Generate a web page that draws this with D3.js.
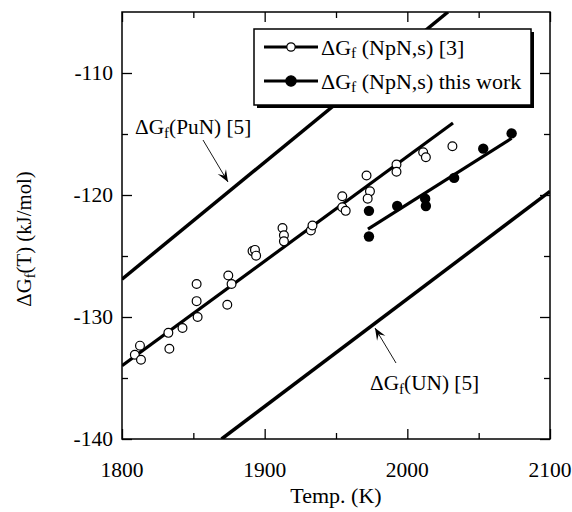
<!DOCTYPE html>
<html><head><meta charset="utf-8">
<script src="https://cdn.jsdelivr.net/npm/d3@7"></script>
<style>body{margin:0;background:#fff;} svg text{font-family:'Liberation Serif','DejaVu Serif',serif;}</style>
</head><body>
<svg id="c" width="572" height="512" font-family="Liberation Serif, DejaVu Serif, serif"></svg>
<script>
// ---- data ----
const xTicks = [1800, 1900, 2000, 2100];
const xMinorTicks = [1850, 1950, 2050];
const yTicks = [-140, -130, -120, -110];
const yMinorTicks = [-135, -125, -115];
const xDomain = [1800, 2100];
const yDomain = [-140, -105];

// open circles: ΔGf (NpN,s) [3]
const refT = [1809, 1812.6, 1813.3, 1832.5, 1833.2, 1842.4, 1852.3, 1852.3, 1853, 1873.8, 1874.5, 1876.8,
  1891.5, 1893.2, 1894, 1912.5, 1913.5, 1913.5, 1932.4, 1933.5, 1954.4, 1954.4, 1956.8,
  1971.4, 1973.8, 1972.2, 1992.4, 1992.4, 2011.1, 2013, 2031.6];
const refG = [-133.1, -132.35, -133.5, -131.3, -132.6, -130.9, -127.3, -128.7, -130.0, -129.0, -126.6, -127.3,
  -124.6, -124.5, -124.97, -122.7, -123.3, -123.8, -122.9, -122.5, -120.1, -121.0, -121.3,
  -118.4, -119.7, -120.3, -117.5, -118.1, -116.5, -116.9, -116.0];
// filled circles: ΔGf (NpN,s) this work
const workT = [1973.1, 1973.1, 1992.9, 2012.5, 2013, 2032.8, 2053.2, 2073.1];
const workG = [-121.3, -123.4, -120.9, -120.3, -120.9, -118.6, -116.2, -114.95];

// straight lines (endpoints)
const refLineT = [1800, 2032];     const refLineG = [-134.0, -114.1];
const workLineT = [1972.4, 2073.1]; const workLineG = [-122.8, -115.35];
const punLineT = [1800, 2028.5];   const punLineG = [-126.9, -105];
const unLineT = [1869.8, 2100];    const unLineG = [-140, -119.7];

const legendLabels = ["(NpN,s) [3]", "(NpN,s) this work"];
const xTitle = "Temp. (K)";

// ---- layout ----
const L = 122, R = 550, T = 12, B = 439;
const x = d3.scaleLinear().domain(xDomain).range([L, R]);
const y = d3.scaleLinear().domain(yDomain).range([B, T]);
const svg = d3.select("#c");

svg.append("defs").append("clipPath").attr("id", "clip")
  .append("rect").attr("x", L).attr("y", T).attr("width", R - L).attr("height", B - T);

function tickAxis(axisGen, tr, vals, len) {
  const g = svg.append("g").attr("transform", tr)
    .call(axisGen.tickValues(vals).tickSize(len).tickFormat(""));
  g.select(".domain").remove();
  g.selectAll("line").attr("stroke", "#000").attr("stroke-width", 1.3);
  return g;
}
tickAxis(d3.axisTop(x), `translate(0,${B})`, xTicks, 10);
tickAxis(d3.axisTop(x), `translate(0,${B})`, xMinorTicks, 6);
tickAxis(d3.axisBottom(x), `translate(0,${T})`, xTicks, 10);
tickAxis(d3.axisBottom(x), `translate(0,${T})`, xMinorTicks, 6);
tickAxis(d3.axisRight(y), `translate(${L},0)`, yTicks, 10);
tickAxis(d3.axisRight(y), `translate(${L},0)`, yMinorTicks, 6);
tickAxis(d3.axisLeft(y), `translate(${R},0)`, yTicks, 10);
tickAxis(d3.axisLeft(y), `translate(${R},0)`, yMinorTicks, 6);

svg.append("rect").attr("x", L).attr("y", T).attr("width", R - L).attr("height", B - T)
  .attr("fill", "none").attr("stroke", "#000").attr("stroke-width", 1.5);

const FF = "Liberation Serif, DejaVu Serif, serif";
svg.append("g").selectAll("text").data(xTicks).join("text")
  .attr("x", d => x(d)).attr("y", B + 38).attr("text-anchor", "middle")
  .attr("font-family", FF).attr("font-size", 21.5).text(d => d);
svg.append("g").selectAll("text").data(yTicks).join("text")
  .attr("x", L - 9).attr("y", d => y(d) + 7).attr("text-anchor", "end")
  .attr("font-family", FF).attr("font-size", 21.5).text(d => d);

svg.append("text").attr("x", (L + R) / 2).attr("y", 503).attr("text-anchor", "middle")
  .attr("font-family", FF).attr("font-size", 22).text(xTitle);
const yt = svg.append("text").attr("transform", "translate(31,239) rotate(-90)")
  .attr("text-anchor", "middle").attr("font-family", FF).attr("font-size", 20.8);
yt.append("tspan").text("ΔG");
yt.append("tspan").attr("font-size", 14.5).attr("dy", 4).text("f");
yt.append("tspan").attr("dy", -4).text("(T) (kJ/mol)");

const lineGen = d3.line().x(d => x(d[0])).y(d => y(d[1]));
const plot = svg.append("g").attr("clip-path", "url(#clip)");
function drawLine(ts, gs, w) {
  plot.append("path").datum(ts.map((t, i) => [t, gs[i]])).attr("d", lineGen)
    .attr("fill", "none").attr("stroke", "#000").attr("stroke-width", w);
}
drawLine(punLineT, punLineG, 3.5);
drawLine(unLineT, unLineG, 3.5);
drawLine(refLineT, refLineG, 3.2);
drawLine(workLineT, workLineG, 3.2);

plot.append("g").selectAll("circle").data(refT.map((t, i) => [t, refG[i]])).join("circle")
  .attr("cx", d => x(d[0])).attr("cy", d => y(d[1])).attr("r", 4.4)
  .attr("fill", "#fff").attr("stroke", "#000").attr("stroke-width", 1.2);
plot.append("g").selectAll("circle").data(workT.map((t, i) => [t, workG[i]])).join("circle")
  .attr("cx", d => x(d[0])).attr("cy", d => y(d[1])).attr("r", 5.2)
  .attr("fill", "#000");

function subLabel(xp, yp, parts) {
  const t = svg.append("text").attr("x", xp).attr("y", yp).attr("font-family", FF).attr("font-size", 21.3);
  t.append("tspan").text("ΔG");
  t.append("tspan").attr("font-size", 15).attr("dy", 4).text("f");
  t.append("tspan").attr("dy", -4).text(parts);
  return t;
}
function arrow(x1, y1, x2, y2) {
  svg.append("line").attr("x1", x1).attr("y1", y1).attr("x2", x2).attr("y2", y2)
    .attr("stroke", "#000").attr("stroke-width", 0.9);
  const a = Math.atan2(y2 - y1, x2 - x1), len = 13, sp = 0.38;
  const p1 = [x2 - len * Math.cos(a - sp), y2 - len * Math.sin(a - sp)];
  const p2 = [x2 - len * Math.cos(a + sp), y2 - len * Math.sin(a + sp)];
  const pin = [x2 - len * 0.55 * Math.cos(a), y2 - len * 0.55 * Math.sin(a)];
  svg.append("path").attr("d", `M${p1}L${x2},${y2}L${p2}L${pin}Z`).attr("fill", "#000");
}
subLabel(135, 134, "(PuN) [5]");
arrow(203, 140, 228, 182);
subLabel(370, 390, "(UN) [5]");
arrow(396, 363, 375, 328);

const lx = 254, ly = 29, lw = 277, lh = 76;
svg.append("rect").attr("x", lx + 3).attr("y", ly + 3).attr("width", lw).attr("height", lh).attr("fill", "#000");
svg.append("rect").attr("x", lx).attr("y", ly).attr("width", lw).attr("height", lh)
  .attr("fill", "#fff").attr("stroke", "#000").attr("stroke-width", 1.5);
const rowsY = [47, 81];
legendLabels.forEach((lab, i) => {
  const yy = rowsY[i];
  svg.append("line").attr("x1", 264).attr("x2", 318).attr("y1", yy).attr("y2", yy)
    .attr("stroke", "#000").attr("stroke-width", 3);
  svg.append("circle").attr("cx", 291).attr("cy", yy).attr("r", i === 0 ? 4.2 : 5.2)
    .attr("fill", i === 0 ? "#fff" : "#000").attr("stroke", "#000").attr("stroke-width", 1.2);
  const t = svg.append("text").attr("x", 321).attr("y", yy + 7.5).attr("font-family", FF).attr("font-size", 22);
  t.append("tspan").text("ΔG");
  t.append("tspan").attr("font-size", 15.5).attr("dy", 3).text("f");
  t.append("tspan").attr("dy", -3).text(" " + lab);
});
</script>
</body></html>
